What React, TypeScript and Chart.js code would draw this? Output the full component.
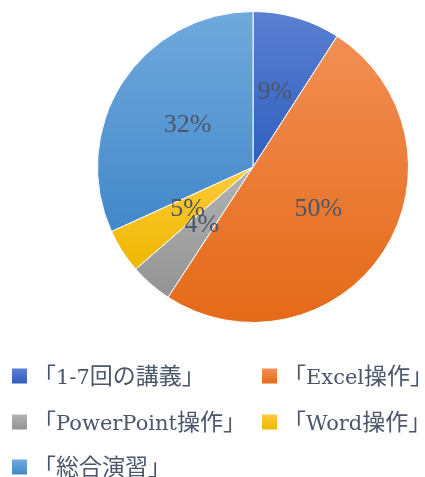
import React, { useEffect, useRef } from "react";
import { Chart, registerables } from "chart.js";

Chart.register(...registerables);

const categories = ["「1-7回の講義」", "「Excel操作」", "「PowerPoint操作」", "「Word操作」", "「総合演習」"];
const values = [9.1, 50.1, 4.4, 4.6, 31.8];
const topColors = ["#5B80D2", "#F28E54", "#B3B3B3", "#FFCB3A", "#70A9DD"];
const bottomColors = ["#2F5FBE", "#E46A18", "#939393", "#EDB700", "#4388C9"];
const textColor = "#4B566A";

function arcYRange(el: any) {
  const { x, y, startAngle, endAngle, outerRadius } = el;
  const ys = [y, y + Math.sin(startAngle) * outerRadius, y + Math.sin(endAngle) * outerRadius];
  const checks = [-Math.PI / 2, Math.PI / 2, (3 * Math.PI) / 2, (-3 * Math.PI) / 2];
  for (const a of checks) {
    if (a >= startAngle && a <= endAngle) ys.push(y + Math.sin(a) * outerRadius);
  }
  return [Math.min(...ys), Math.max(...ys)];
}

const gradientPlugin = {
  id: "sliceGradient",
  beforeDatasetsDraw(chart: any) {
    const ctx = chart.ctx;
    const meta = chart.getDatasetMeta(0);
    meta.data.forEach((el: any, i: number) => {
      const [y0, y1] = arcYRange(el);
      const g = ctx.createLinearGradient(0, y0, 0, y1);
      g.addColorStop(0, topColors[i]);
      g.addColorStop(1, bottomColors[i]);
      el.options.backgroundColor = g;
    });
  },
};

const labelPlugin = {
  id: "pctLabels",
  afterDatasetsDraw(chart: any) {
    const ctx = chart.ctx;
    const meta = chart.getDatasetMeta(0);
    const total = values.reduce((a, b) => a + b, 0);
    ctx.save();
    ctx.font = '26px "Liberation Serif", "Noto Sans CJK JP", serif';
    ctx.fillStyle = textColor;
    ctx.textAlign = "center";
    ctx.textBaseline = "middle";
    meta.data.forEach((el: any, i: number) => {
      const mid = (el.startAngle + el.endAngle) / 2;
      const r = el.outerRadius * 0.5;
      const px = el.x + Math.cos(mid) * r;
      const py = el.y + Math.sin(mid) * r;
      ctx.fillText(Math.round((values[i] / total) * 100) + "%", px, py);
    });
    ctx.restore();
  },
};

const CJK_FONT = '23px "Noto Sans CJK JP", sans-serif';
const LATIN_FONT = '21px "DejaVu Serif", serif';

function drawMixed(ctx: any, text: string, x: number, baseline: number) {
  let cur = x;
  let run = "";
  let runCjk: boolean | null = null;
  const flush = () => {
    if (!run) return;
    ctx.font = runCjk ? CJK_FONT : LATIN_FONT;
    ctx.fillText(run, cur, baseline);
    cur += ctx.measureText(run).width;
    run = "";
  };
  for (const ch of text) {
    const isCjk = ch.charCodeAt(0) > 0x2e80;
    if (runCjk !== null && isCjk !== runCjk) flush();
    runCjk = isCjk;
    run += ch;
  }
  flush();
}

const legendPlugin = {
  id: "gridLegend",
  afterDraw(chart: any) {
    const ctx = chart.ctx;
    const colX = [12, 262];
    const rowY = [376, 422, 467];
    const box = 15;
    ctx.save();
    ctx.textBaseline = "alphabetic";
    ctx.textAlign = "left";
    categories.forEach((label, i) => {
      const cx = colX[i % 2];
      const cy = rowY[Math.floor(i / 2)];
      const g = ctx.createLinearGradient(0, cy - box / 2, 0, cy + box / 2);
      g.addColorStop(0, topColors[i]);
      g.addColorStop(1, bottomColors[i]);
      ctx.fillStyle = g;
      ctx.fillRect(cx, cy - box / 2, box, box);
      ctx.fillStyle = textColor;
      drawMixed(ctx, label, cx + 21, cy + 8);
    });
    ctx.restore();
  },
};

export default function App() {
  const ref = useRef<HTMLCanvasElement>(null);
  useEffect(() => {
    document.body.style.margin = "0";
    const chart = new Chart(ref.current!, {
      type: "pie",
      data: {
        labels: categories,
        datasets: [
          {
            data: values,
            backgroundColor: bottomColors,
            borderColor: "#ffffff",
            borderWidth: 1,
          },
        ],
      },
      options: {
        animation: false,
        responsive: false,
        rotation: 0,
        layout: { padding: { top: 11, bottom: 154, left: 97, right: 16 } },
        plugins: {
          legend: { display: false },
          tooltip: { enabled: false },
        },
      },
      plugins: [gradientPlugin, labelPlugin, legendPlugin],
    });
    return () => chart.destroy();
  }, []);
  return (
    <div style={{ width: 425, height: 477, background: "#fff" }}>
      <canvas ref={ref} width={425} height={477} style={{ display: "block" }} />
    </div>
  );
}
